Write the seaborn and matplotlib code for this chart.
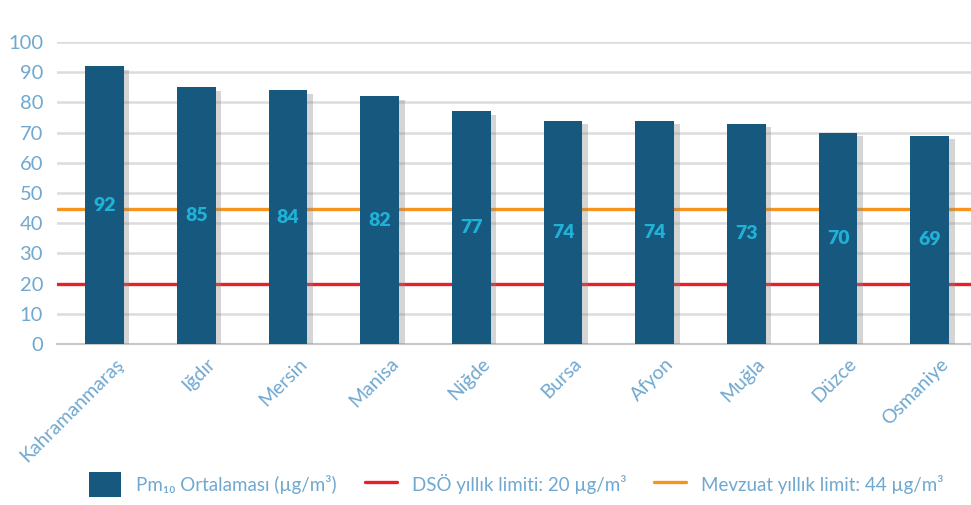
import matplotlib
matplotlib.use("Agg")
import matplotlib.pyplot as plt
import matplotlib.patheffects as pe
import matplotlib.transforms as mtransforms
from matplotlib.patches import Patch
from matplotlib.lines import Line2D
import seaborn as sns
import pandas as pd

iller = ["Kahramanmaraş", "Iğdır", "Mersin", "Manisa", "Niğde",
         "Bursa", "Afyon", "Muğla", "Düzce", "Osmaniye"]
pm10 = [92, 85, 84, 82, 77, 74, 74, 73, 70, 69]
dso_limit = 20
mevzuat_limit = 44.7
y_ticks = [0, 10, 20, 30, 40, 50, 60, 70, 80, 90, 100]

bar_renk = "#17587f"
etiket_renk = "#20b2d6"
yazi_renk = "#6fa8d0"

sns.set_style("white")
plt.rcParams["font.family"] = ["Lato", "DejaVu Sans"]

df = pd.DataFrame({"il": iller, "pm10": pm10})

fig = plt.figure(figsize=(9.71, 5.05), dpi=100)
ax = fig.add_axes([57 / 971, 1 - 344 / 505, 1 - 57 / 971, (344 - 42) / 505])

ax.set_axisbelow(True)
ax.yaxis.grid(True, color="#dcdcdc", linewidth=1.8)

sns.barplot(data=df, x="il", y="pm10", color=bar_renk, width=0.42,
            saturation=1, ax=ax, zorder=3)
for bar in ax.patches:
    bar.set_path_effects([pe.SimplePatchShadow(offset=(4, -2.5), shadow_rgbFace="#888888", alpha=0.35),
                          pe.Normal()])
    bar.set_edgecolor("none")

ax.axhline(dso_limit, color="#e8202a", linewidth=2.4, zorder=2)
ax.axhline(mevzuat_limit, color="#f7941d", linewidth=2.4, zorder=2)

for i, v in enumerate(pm10):
    ax.text(i, v / 2, str(v), ha="center", va="center", color=etiket_renk,
            fontsize=14, fontweight="heavy", zorder=5)

ax.set_ylim(0, 100)
ax.set_xlim(-0.52, 9.45)
ax.set_yticks(y_ticks)
ax.set_xlabel("")
ax.set_ylabel("")
ax.tick_params(axis="y", colors=yazi_renk, labelsize=14.5, length=0, pad=10)
ax.tick_params(axis="x", colors=yazi_renk, labelsize=14, length=0, pad=8)
kaydir = mtransforms.ScaledTranslation(10 / 100, 0, fig.dpi_scale_trans)
for lbl in ax.get_xticklabels():
    lbl.set_rotation(45)
    lbl.set_ha("right")
    lbl.set_rotation_mode("anchor")
    lbl.set_transform(lbl.get_transform() + kaydir)

for s in ["top", "right", "left"]:
    ax.spines[s].set_visible(False)
ax.spines["bottom"].set_color("#c8c8c8")
ax.spines["bottom"].set_linewidth(1.5)

handles = [
    Patch(facecolor=bar_renk, edgecolor="none"),
    Line2D([0], [0], color="#e8202a", linewidth=2.4),
    Line2D([0], [0], color="#f7941d", linewidth=2.4),
]
labels = ["Pm₁₀ Ortalaması (µg/m³)", "DSÖ yıllık limiti: 20 µg/m³",
          "Mevzuat yıllık limit: 44 µg/m³"]
leg = fig.legend(handles, labels, loc="center", bbox_to_anchor=(0.532, 0.04),
                 ncol=3, frameon=False, fontsize=13.5, handlelength=1.7,
                 handleheight=1.7, columnspacing=1.5, handletextpad=0.8)
for t in leg.get_texts():
    t.set_color(yazi_renk)

fig.savefig("out.png", dpi=100)
